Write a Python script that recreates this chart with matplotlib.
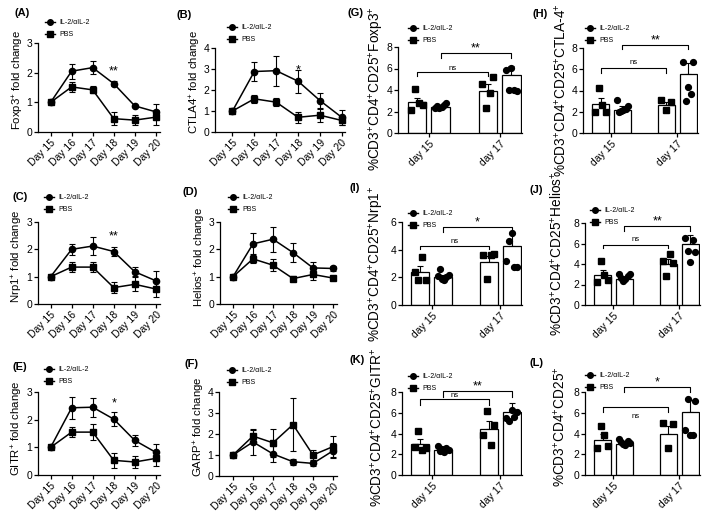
import numpy as np
import matplotlib
matplotlib.use("Agg")
import matplotlib.pyplot as plt
from matplotlib.lines import Line2D

plt.rcParams['font.family'] = ['Liberation Sans', 'DejaVu Sans']
plt.rcParams['mathtext.fontset'] = 'custom'
plt.rcParams['mathtext.rm'] = 'Liberation Sans'
plt.rcParams['mathtext.it'] = 'Liberation Sans:italic'
plt.rcParams['mathtext.bf'] = 'Liberation Sans:bold'

W, H = 709, 512

# ---------------- data: line panels ----------------
days = ['Day 15', 'Day 16', 'Day 17', 'Day 18', 'Day 19', 'Day 20']

foxp3_il2 = [1.0, 2.05, 2.17, 1.63, 0.88, 0.68]
foxp3_il2_err = [0, 0.25, 0.22, 0.08, 0.03, 0.25]
foxp3_pbs = [1.0, 1.52, 1.42, 0.45, 0.40, 0.50]
foxp3_pbs_err = [0, 0.17, 0.12, 0.22, 0.18, 0.25]

ctla4_il2 = [1.0, 2.88, 2.92, 2.42, 1.50, 0.70]
ctla4_il2_err = [0, 0.45, 0.72, 0.55, 0.35, 0.35]
ctla4_pbs = [1.0, 1.58, 1.42, 0.70, 0.80, 0.55]
ctla4_pbs_err = [0, 0.20, 0.18, 0.25, 0.30, 0.20]

nrp1_il2 = [1.0, 2.00, 2.12, 1.92, 1.18, 0.85]
nrp1_il2_err = [0, 0.20, 0.32, 0.17, 0.17, 0.35]
nrp1_pbs = [1.0, 1.35, 1.35, 0.60, 0.72, 0.55]
nrp1_pbs_err = [0, 0.18, 0.18, 0.20, 0.25, 0.30]

helios_il2 = [1.0, 2.20, 2.37, 1.88, 1.32, 1.30]
helios_il2_err = [0, 0.38, 0.45, 0.35, 0.22, 0.10]
helios_pbs = [1.0, 1.65, 1.42, 0.93, 1.08, 0.95]
helios_pbs_err = [0, 0.15, 0.22, 0.08, 0.22, 0.05]

gitr_il2 = [1.0, 2.43, 2.45, 2.02, 1.25, 0.82]
gitr_il2_err = [0, 0.40, 0.35, 0.25, 0.20, 0.30]
gitr_pbs = [1.0, 1.55, 1.55, 0.53, 0.47, 0.60]
gitr_pbs_err = [0, 0.18, 0.28, 0.28, 0.22, 0.28]

garp_il2 = [1.0, 1.62, 1.05, 0.68, 0.60, 1.20]
garp_il2_err = [0, 0.60, 0.38, 0.15, 0.10, 0.35]
garp_pbs = [1.0, 1.90, 1.58, 2.45, 1.00, 1.40]
garp_pbs_err = [0, 0.30, 0.68, 1.25, 0.25, 0.50]

# ---------------- data: bar panels ----------------
bar_groups = ['day 15', 'day 17']

foxp3_bars = [2.85, 2.40, 3.95, 5.35]
foxp3_bars_err = [0.45, 0.15, 0.65, 0.85]
foxp3_pts = [[2.1, 4.05, 2.8, 2.6], [2.3, 2.5, 2.35, 2.4, 2.6, 2.75],
             [4.6, 2.3, 3.7, 5.2], [5.9, 4.0, 6.05, 4.0, 3.95]]

ctla4_bars = [2.70, 2.20, 2.60, 5.60]
ctla4_bars_err = [0.55, 0.30, 0.30, 0.95]
ctla4_pts = [[2.0, 4.2, 2.6, 2.0], [3.1, 2.0, 2.1, 2.2, 2.3, 2.5],
             [3.1, 2.2, 2.9], [6.7, 3.0, 4.3, 3.7, 6.7]]

nrp1_bars = [2.35, 2.00, 3.10, 4.30]
nrp1_bars_err = [0.45, 0.15, 0.45, 0.90]
nrp1_pts = [[2.4, 1.8, 3.5, 1.8], [2.1, 2.6, 1.9, 1.8, 2.0, 2.2],
            [3.6, 1.85, 3.6, 3.7], [3.2, 4.6, 5.2, 2.75, 2.75]]

helios_bars = [2.95, 2.55, 4.00, 6.00]
helios_bars_err = [0.50, 0.20, 0.50, 0.85]
helios_pts = [[2.2, 4.3, 2.9, 2.4], [3.0, 2.6, 2.3, 2.5, 2.8, 3.0],
              [4.3, 2.8, 5.0, 4.1], [6.5, 5.3, 4.2, 6.3, 5.2]]

gitr_bars = [2.95, 2.45, 4.45, 6.05]
gitr_bars_err = [0.50, 0.15, 0.75, 0.85]
gitr_pts = [[2.7, 4.2, 2.4, 2.6], [2.8, 2.3, 2.5, 2.2, 2.6, 2.4],
            [3.9, 6.2, 2.9, 4.8], [5.5, 5.2, 6.3, 5.6, 6.1]]

cd25_bars = [3.35, 3.00, 4.00, 6.10]
cd25_bars_err = [0.60, 0.10, 0.75, 1.10]
cd25_pts = [[2.6, 4.7, 3.9, 2.75], [3.5, 3.2, 3.0, 2.9, 3.3, 3.1],
            [5.0, 2.6, 4.9], [4.3, 7.3, 3.85, 3.9, 7.15]]

fig = plt.figure(figsize=(W / 100, H / 100), dpi=100)


def rect(l, t, r, b):
    return [l / W, 1 - b / H, (r - l) / W, (b - t) / H]


def style_axes(ax):
    for s in ['top', 'right']:
        ax.spines[s].set_visible(False)
    for s in ['left', 'bottom']:
        ax.spines[s].set_linewidth(0.9)
    ax.tick_params(axis='both', direction='out', length=3, width=0.9,
                   labelsize=7.5, pad=1.2)


def add_legend(ax, x, y):
    handles = [Line2D([0], [0], color='k', marker='o', ms=4, lw=1),
               Line2D([0], [0], color='k', marker='s', ms=4, lw=1)]
    ax.legend(handles, ['IL-2/αIL-2', 'PBS'], loc='upper left',
              bbox_to_anchor=(x / W, 1 - y / H), bbox_transform=fig.transFigure,
              frameon=False, fontsize=5, handlelength=1.4, handletextpad=0.7,
              labelspacing=0.75, borderpad=0, borderaxespad=0)


def line_panel(r, ylim, il2, il2e, pbs, pbse, ylabel, lab_xy, leg_xy, star=None,
               xlim=(-0.6, 5.2)):
    ax = fig.add_axes(rect(*r))
    x = np.arange(len(days))
    ax.errorbar(x, il2, yerr=il2e, color='k', marker='o', ms=4.5, lw=1.1,
                elinewidth=0.8, capsize=2.5, capthick=0.8, clip_on=False, zorder=3)
    ax.errorbar(x, pbs, yerr=pbse, color='k', marker='s', ms=4.5, lw=1.1,
                elinewidth=0.8, capsize=2.5, capthick=0.8, clip_on=False, zorder=3)
    ax.set_ylim(*ylim)
    ax.set_yticks(np.arange(ylim[0], ylim[1] + 1))
    ax.set_xlim(*xlim)
    ax.set_xticks(x)
    ax.set_xticklabels(days, rotation=45, ha='right', rotation_mode='anchor')
    style_axes(ax)
    fig.text(lab_xy[0] / W, 1 - lab_xy[1] / H, ylabel, rotation=90,
             ha='center', va='center', fontsize=8.2)
    add_legend(ax, *leg_xy)
    if star:
        ax.text(star[0], star[1], star[2], ha='center', va='center', fontsize=9)
    return ax


def bar_panel(r, ytop, bars, berr, pts, ylabel, lab_xy, leg_xy, brackets):
    ax = fig.add_axes(rect(*r))
    pos = np.array([0, 1, 3, 4])
    ax.bar(pos, bars, width=0.78, color='white', edgecolor='k', linewidth=0.9,
           zorder=2)
    ax.errorbar(pos, bars, yerr=[np.zeros(4), berr], fmt='none', ecolor='k',
                elinewidth=0.8, capsize=2.5, capthick=0.8, zorder=1)
    markers = ['s', 'o', 's', 'o']
    for p, vals, m in zip(pos, pts, markers):
        n = len(vals)
        offs = np.linspace(-0.24, 0.24, n)
        ax.plot(p + offs, vals, linestyle='none', marker=m, ms=4.2, color='k',
                zorder=3, clip_on=False)
    ax.set_ylim(0, ytop)
    ax.set_yticks(np.arange(0, ytop + 1, 2))
    ax.set_xlim(-0.8, 4.45)
    ax.set_xticks([0.5, 3.5])
    ax.set_xticklabels(bar_groups, rotation=45, ha='right', rotation_mode='anchor')
    style_axes(ax)
    for (i, j, yl, yd, txt, ty, fs) in brackets:
        ax.plot([pos[i], pos[i], pos[j], pos[j]], [yd, yl, yl, yd], color='k',
                lw=0.8, clip_on=False)
        ax.text((pos[i] + pos[j]) / 2, ty, txt, ha='center', va='center',
                fontsize=fs, clip_on=False)
    fig.text(lab_xy[0] / W, 1 - lab_xy[1] / H, ylabel, rotation=90,
             ha='center', va='center', fontsize=9.8)
    add_legend(ax, *leg_xy)
    return ax


# ---------- line panels ----------
line_panel((38, 43, 160, 132), (0, 3), foxp3_il2, foxp3_il2_err, foxp3_pbs,
           foxp3_pbs_err, r'Foxp3$^{+}$ fold change', (18, 80), (45, 19),
           star=(3, 2.05, '**'))
line_panel((215, 48, 345, 132), (0, 4), ctla4_il2, ctla4_il2_err, ctla4_pbs,
           ctla4_pbs_err, r'CTLA4$^{+}$ fold change', (195, 82), (227, 24),
           star=(3, 2.94, '*'), xlim=(-0.8, 5.15))
line_panel((38, 222, 160, 304), (0, 3), nrp1_il2, nrp1_il2_err, nrp1_pbs,
           nrp1_pbs_err, r'Nrp1$^{+}$ fold change', (17, 256), (44, 194),
           star=(3, 2.49, '**'))
line_panel((220, 222, 337, 304), (0, 3), helios_il2, helios_il2_err, helios_pbs,
           helios_pbs_err, r'Helios$^{+}$ fold change', (200, 257), (228, 194),
           xlim=(-0.65, 5.2))
line_panel((219, 392, 337, 476), (0, 4), garp_il2, garp_il2_err, garp_pbs,
           garp_pbs_err, r'GARP$^{+}$ fold change', (199, 427), (227, 367),
           xlim=(-0.7, 5.2))
line_panel((38, 392, 160, 475), (0, 3), gitr_il2, gitr_il2_err, gitr_pbs,
           gitr_pbs_err, r'GITR$^{+}$ fold change', (17, 428), (44, 366),
           star=(3, 2.58, '*'))

# ---------- bar panels ----------
bar_panel((398, 47, 522, 133), 8, foxp3_bars, foxp3_bars_err, foxp3_pts,
          r'%CD3$^{+}$CD4$^{+}$CD25$^{+}$Foxp3$^{+}$', (377, 89), (408, 25),
          [(0, 2, 5.67, 5.27, 'ns', 6.0, 5.5), (1, 3, 7.44, 7.0, '**', 7.9, 9)])
bar_panel((583, 48, 698, 133), 8, ctla4_bars, ctla4_bars_err, ctla4_pts,
          r'%CD3$^{+}$CD4$^{+}$CD25$^{+}$CTLA-4$^{+}$', (561, 90), (585, 25),
          [(0, 2, 6.1, 5.63, 'ns', 6.6, 5.5), (1, 3, 8.3, 7.9, '**', 8.75, 9)])
bar_panel((402, 222, 522, 305), 6, nrp1_bars, nrp1_bars_err, nrp1_pts,
          r'%CD3$^{+}$CD4$^{+}$CD25$^{+}$Nrp1$^{+}$', (377, 264), (408, 210),
          [(0, 2, 4.3, 4.08, 'ns', 4.6, 5.5), (1, 3, 5.63, 5.28, '*', 6.0, 9)])
bar_panel((585, 223, 700, 305), 8, helios_bars, helios_bars_err, helios_pts,
          r'%CD3$^{+}$CD4$^{+}$CD25$^{+}$Helios$^{+}$', (557, 254), (590, 207),
          [(0, 2, 5.9, 5.55, 'ns', 6.35, 5.5), (1, 3, 7.68, 7.25, '**', 8.15, 9)])
bar_panel((402, 392, 522, 475), 8, gitr_bars, gitr_bars_err, gitr_pts,
          r'%CD3$^{+}$CD4$^{+}$CD25$^{+}$GITR$^{+}$', (377, 427), (408, 373),
          [(0, 2, 7.3, 6.77, 'ns', 7.7, 5.5), (1, 3, 8.06, 7.5, '**', 8.5, 9)])
bar_panel((585, 392, 700, 475), 8, cd25_bars, cd25_bars_err, cd25_pts,
          r'%CD3$^{+}$CD4$^{+}$CD25$^{+}$', (560, 427), (585, 372),
          [(0, 2, 6.6, 6.1, 'ns', 5.65, 5.5), (1, 3, 8.45, 8.0, '*', 8.9, 9)])

# ---------- panel letters ----------
letters = [('(A)', 22, 13), ('(B)', 184, 15), ('(G)', 356, 13), ('(H)', 540, 14),
           ('(C)', 20, 197), ('(D)', 190, 192), ('(I)', 355, 188), ('(J)', 536, 190),
           ('(E)', 20, 367), ('(F)', 191, 364), ('(K)', 357, 360), ('(L)', 537, 363)]
for t, x, y in letters:
    fig.text(x / W, 1 - y / H, t, ha='center', va='center', fontsize=8,
             fontweight='bold')

fig.savefig('out.png', dpi=100)
